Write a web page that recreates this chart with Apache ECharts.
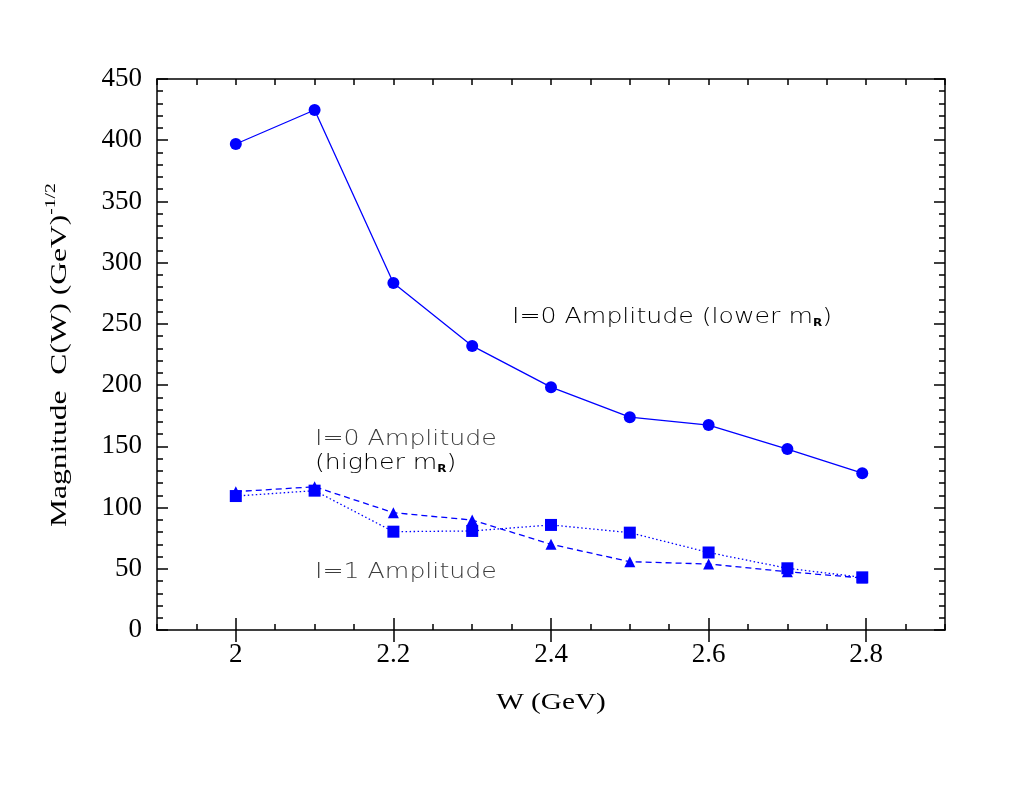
<!DOCTYPE html>
<html>
<head>
<meta charset="utf-8">
<script src="https://cdn.jsdelivr.net/npm/echarts@6/dist/echarts.min.js"></script>
<style>
  html, body { margin: 0; padding: 0; background: #fff; }
  #chart { width: 1024px; height: 788px; }
</style>
</head>
<body>
<div id="chart"></div>
<script>
// W values (GeV)
const wValues = [2.0, 2.1, 2.2, 2.3, 2.4, 2.5, 2.6, 2.7, 2.795]
// I=0 amplitude, lower m_R (circles, solid)
const i0Lower = [396.9, 424.7, 283.4, 232.0, 198.3, 173.8, 167.4, 147.8, 128.1]
// I=0 amplitude, higher m_R (triangles, dashed)
const i0Higher = [113.0, 117.0, 95.8, 89.8, 70.0, 55.8, 53.9, 47.6, 42.5]
// I=1 amplitude (squares, dotted)
const i1Amp = [109.4, 113.8, 80.3, 80.9, 85.8, 79.5, 63.3, 50.4, 43.0]

const xLabelValues = [2, 2.2, 2.4, 2.6, 2.8]

const pairs = (ys) => wValues.map((w, i) => [w, ys[i]])

const chart = echarts.init(document.getElementById('chart'))

const serif = '"Liberation Serif", "DejaVu Serif", serif'
const anno = '"DejaVu Sans", sans-serif'
const blue = '#0000ff'
const annoGray = '#3c3c3c'

// short ticks every 0.05, long ticks at the labelled values
const xBase = (pos, withLabels) => ({
  type: 'value',
  position: pos,
  min: 1.9,
  max: 2.9,
  interval: 0.05,
  axisLine: { show: true, onZero: false, lineStyle: { color: '#000', width: 1.5 } },
  axisTick: { show: true, inside: true, length: 6, lineStyle: { color: '#000', width: 1.5 } },
  axisLabel: withLabels ? {
    show: true,
    customValues: xLabelValues,
    margin: 11,
    fontFamily: serif,
    fontSize: 27,
    color: '#000',
    formatter: (v) => String(+v.toFixed(1))
  } : { show: false },
  splitLine: { show: false }
})
const xLong = (pos) => ({
  type: 'value',
  position: pos,
  min: 1.9,
  max: 2.9,
  axisLine: { show: false },
  axisTick: { show: true, inside: true, length: 12, customValues: xLabelValues, lineStyle: { color: '#000', width: 1.5 } },
  axisLabel: { show: false },
  splitLine: { show: false }
})
const yBase = (pos, withLabels) => ({
  type: 'value',
  position: pos,
  min: 0,
  max: 450,
  interval: 50,
  axisLine: { show: true, lineStyle: { color: '#000', width: 1.5 } },
  axisTick: { show: true, inside: true, length: 11, lineStyle: { color: '#000', width: 1.5 } },
  minorTick: { show: true, splitNumber: 5, length: 6, lineStyle: { color: '#000', width: 1.5 } },
  axisLabel: withLabels ? {
    show: true, margin: 15, fontFamily: serif, fontSize: 27, color: '#000'
  } : { show: false },
  splitLine: { show: false }
})

const subLabel = (main, tail) => ({
  text: '{a|' + main + '}{r|R}{a|' + tail + '}',
  textVerticalAlign: 'middle',
  rich: {
    a: { fontFamily: anno, fontWeight: 200, fontSize: 21, color: annoGray, lineHeight: 25 },
    r: { fontFamily: anno, fontWeight: 'bold', fontSize: 10, color: annoGray, verticalAlign: 'bottom', padding: [0, 0, 2, 0] }
  }
})
const plainLabel = (t) => ({
  text: t, textVerticalAlign: 'middle',
  fontFamily: anno, fontWeight: 200, fontSize: 21, fill: annoGray
})

const option = {
  backgroundColor: '#fff',
  animation: false,
  grid: { left: 157, top: 79, right: 79, bottom: 158, containLabel: false },
  xAxis: [xBase('bottom', true), xLong('bottom'), xBase('top', false), xLong('top')],
  yAxis: [yBase('left', true), yBase('right', false)],
  graphic: [
    {
      type: 'text', x: 60, y: 527, rotation: Math.PI / 2, scaleX: 1.5, scaleY: 1.05,
      style: {
        text: '{m|Magnitude  C(W) (GeV)}{s|-1/2}',
        textAlign: 'left', textVerticalAlign: 'middle',
        rich: {
          m: { fontFamily: serif, fontSize: 21, color: '#000', lineHeight: 30 },
          s: { fontFamily: serif, fontSize: 13, color: '#000', verticalAlign: 'top' }
        }
      }
    },
    {
      type: 'text', x: 551, y: 703, scaleX: 1.22,
      style: { text: 'W (GeV)', textAlign: 'center', textVerticalAlign: 'middle', fontFamily: serif, fontSize: 24, fill: '#000' }
    },
    { type: 'text', x: 512, y: 318, scaleX: 1.2, style: subLabel('I=0 Amplitude (lower m', ')') },
    { type: 'text', x: 315, y: 440, scaleX: 1.2, style: plainLabel('I=0 Amplitude') },
    { type: 'text', x: 315, y: 464, scaleX: 1.2, style: subLabel('(higher m', ')') },
    { type: 'text', x: 315, y: 573, scaleX: 1.2, style: plainLabel('I=1 Amplitude') }
  ],
  series: [
    {
      name: 'I=0 lower', type: 'line', data: pairs(i0Lower),
      symbol: 'circle', symbolSize: 12,
      itemStyle: { color: blue },
      lineStyle: { color: blue, width: 1.3, type: 'solid' }
    },
    {
      name: 'I=0 higher', type: 'line', data: pairs(i0Higher),
      symbol: 'triangle', symbolSize: 11,
      itemStyle: { color: blue },
      lineStyle: { color: blue, width: 1.3, type: [6, 4] }
    },
    {
      name: 'I=1', type: 'line', data: pairs(i1Amp),
      symbol: 'rect', symbolSize: 12,
      itemStyle: { color: blue },
      lineStyle: { color: blue, width: 1.3, type: [1.5, 2.5] }
    }
  ]
}
chart.setOption(option)

window.addEventListener('resize', () => chart.resize())
</script>
</body>
</html>
